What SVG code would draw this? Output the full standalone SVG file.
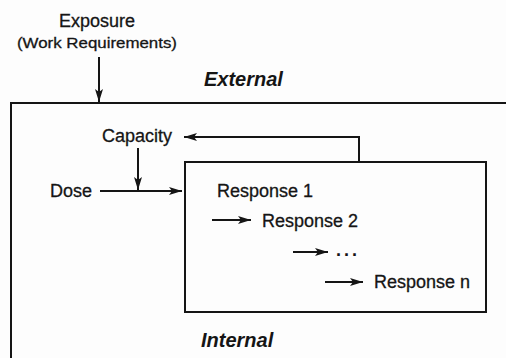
<svg xmlns="http://www.w3.org/2000/svg" width="506" height="358" viewBox="0 0 506 358">
<style>
text{font-family:"Liberation Sans",Arial,sans-serif;fill:#151515}
.t{font-size:18px;stroke:#151515;stroke-width:0.3}
.s{font-size:15px;stroke:#151515;stroke-width:0.3}
.b{font-size:20px;font-weight:bold;font-style:italic}
.d{font-size:18px;font-weight:bold;letter-spacing:3px}
.ln{stroke:#151515;stroke-width:2;fill:none}
.box{stroke:#151515;stroke-width:2;fill:none}
</style>
<defs>
<marker id="ah" markerUnits="userSpaceOnUse" markerWidth="14" markerHeight="10" refX="13" refY="5" orient="auto">
<path d="M0,1 L13,5 L0,9 L3,5 Z" fill="#151515"/>
</marker>
</defs>
<rect width="506" height="358" fill="#fdfdfd"/>
<g id="outer">
<rect class="box" x="11" y="103" width="540" height="280"/>
<text class="b" x="204" y="86">External</text>
<text class="b" x="201" y="347">Internal</text>
</g>
<g id="exposure">
<text class="t" x="97" y="27" text-anchor="middle">Exposure</text>
<text class="s" x="97" y="48" text-anchor="middle" textLength="160" lengthAdjust="spacingAndGlyphs">(Work Requirements)</text>
</g>
<g id="capacity">
<text class="t" x="137" y="142" text-anchor="middle">Capacity</text>
</g>
<g id="dose">
<text class="t" x="50" y="197">Dose</text>
</g>
<g id="responses">
<rect class="box" x="185" y="162" width="301" height="150"/>
<text class="t" x="217" y="197">Response 1</text>
<text class="t" x="262" y="227">Response 2</text>
<text class="d" x="336" y="256">...</text>
<text class="t" x="374" y="288">Response n</text>
</g>
<g id="connectors">
<line class="ln" x1="99" y1="57" x2="99" y2="102" marker-end="url(#ah)"/>
<polyline class="ln" points="359,162 359,137 184,137" marker-end="url(#ah)"/>
<line class="ln" x1="138" y1="148" x2="138" y2="190" marker-end="url(#ah)"/>
<line class="ln" x1="100" y1="191" x2="182" y2="191" marker-end="url(#ah)"/>
<line class="ln" x1="212" y1="220" x2="251" y2="220" marker-end="url(#ah)"/>
<line class="ln" x1="293" y1="252" x2="328" y2="252" marker-end="url(#ah)"/>
<line class="ln" x1="325" y1="282" x2="363" y2="282" marker-end="url(#ah)"/>
</g>
</svg>
